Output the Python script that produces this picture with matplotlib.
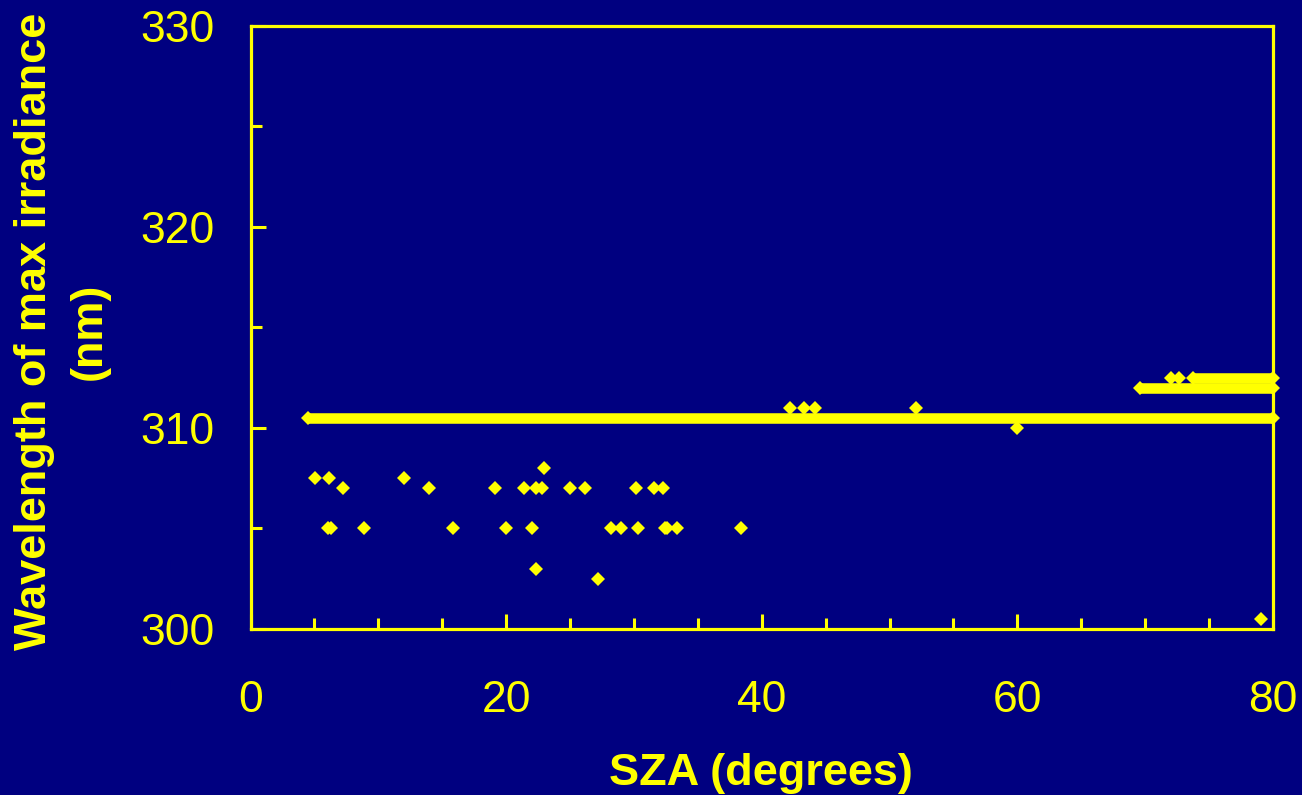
# -*- coding: utf-8 -*-
import matplotlib
matplotlib.use('Agg')
import matplotlib.pyplot as plt
from matplotlib.ticker import MultipleLocator

plt.rcParams['font.family'] = ['Liberation Sans', 'DejaVu Sans']

# 散点数据 (SZA, 最大辐照度波长)
sza = [5.07, 6.12, 7.2, 6.1, 6.3, 8.9, 12.0, 14.0, 15.85, 19.1, 20.0, 21.4,
       22.0, 22.3, 22.8, 22.95, 22.3, 24.96, 26.2, 27.2, 28.2, 28.97, 30.2,
       30.35, 31.6, 32.3, 32.4, 32.6, 33.4, 38.4, 42.25, 43.3, 44.2, 52.1,
       59.96, 72.0, 72.65, 79.1]
wavelength = [307.5, 307.5, 307, 305, 305, 305, 307.5, 307, 305, 307, 305, 307,
              305, 307, 307, 308, 303, 307, 307, 302.5, 305, 305, 307,
              305, 307, 307, 305, 305, 305, 305, 311, 311, 311, 311,
              310, 312.5, 312.5, 300.5]

# 密集点形成的横带 (波长, 起点SZA, 终点SZA)
band_wl = [310.5, 312.0, 312.5]
band_start = [4.53, 69.6, 73.75]
band_end = [80, 80, 80]

navy = '#000080'
yellow = '#FFFF00'

fig = plt.figure(figsize=(13.02, 7.95), dpi=100, facecolor=navy)
ax = fig.add_axes([0.1924, 0.2088, 0.7853, 0.7591], facecolor=navy)

# 横带
for wl, s, e in zip(band_wl, band_start, band_end):
    ax.plot([s, e], [wl, wl], color=yellow, lw=7.6, solid_capstyle='butt',
            marker='D', ms=7.4, mew=0, clip_on=False, zorder=3)

# 散点
ax.plot(sza, wavelength, linestyle='none', marker='D', ms=7, mew=0,
        color=yellow, clip_on=False, zorder=3)

ax.set_xlim(0, 80)
ax.set_ylim(300, 330)

# 坐标轴样式
for sp in ax.spines.values():
    sp.set_color(yellow)
    sp.set_linewidth(2.3)

ax.xaxis.set_major_locator(MultipleLocator(20))
ax.xaxis.set_minor_locator(MultipleLocator(5))
ax.yaxis.set_major_locator(MultipleLocator(10))
ax.yaxis.set_minor_locator(MultipleLocator(5))

ax.tick_params(which='both', direction='in', color=yellow, width=2.2,
               top=False, right=False)
ax.tick_params(which='major', length=11)
ax.tick_params(which='minor', length=8)
ax.tick_params(axis='x', which='major', pad=36.5, labelsize=32, labelcolor=yellow)
ax.tick_params(axis='y', which='major', pad=26, labelsize=32, labelcolor=yellow)

# 坐标轴名称
fig.text(761 / 1302, 1 - 785 / 795, 'SZA (degrees)', color=yellow,
         fontsize=32.5, fontweight='bold', ha='center', va='baseline')
fig.text(62 / 1302, 1 - 331 / 795, 'Wavelength of max irradiance\n(nm)',
         color=yellow, fontsize=32.5, fontweight='bold', rotation=90,
         ha='center', va='center', multialignment='center', linespacing=1.45)

plt.savefig('out.png', dpi=100, facecolor=navy)
plt.close()
